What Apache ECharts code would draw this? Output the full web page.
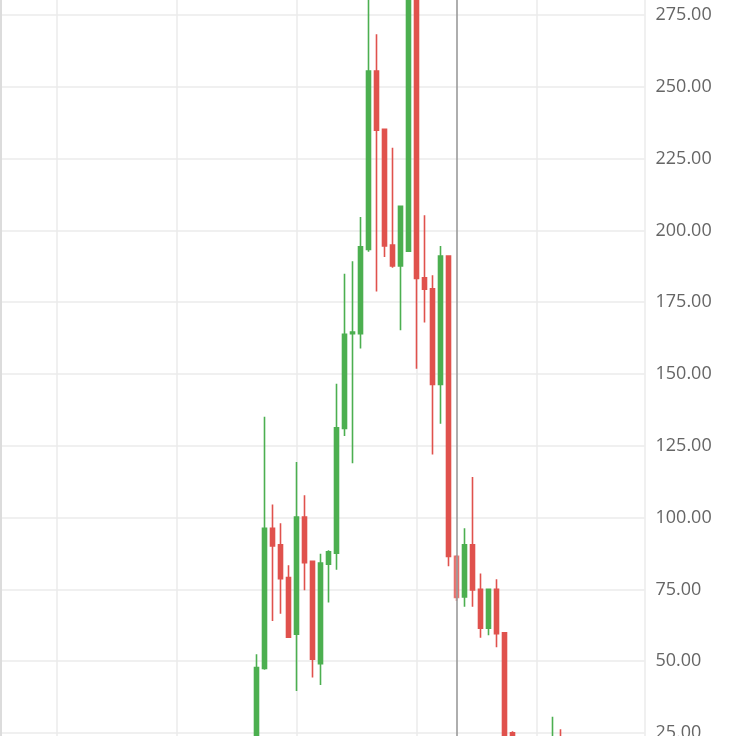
<!DOCTYPE html>
<html>
<head>
<meta charset="utf-8">
<script src="https://cdn.jsdelivr.net/npm/echarts@6/dist/echarts.min.js"></script>
<style>
html,body{margin:0;padding:0;background:#fff;}
#c{width:736px;height:736px;}
</style>
</head>
<body>
<div id="c"></div>
<script>
// ---- data ----
const leadingEmpty = 40;   // empty category slots before the first candle
const totalSlots = 91;     // category slots on the x axis
const opens  = [20.0, 47.5, 96.3, 90.5, 79.1, 59.4, 100.2, 84.8, 49.1, 83.8, 87.6, 131.0, 164.0, 164.0, 193.4, 255.5, 235.2, 194.9, 187.6, 192.8, 295.0, 183.5, 179.7, 146.4, 191.1, 86.5, 72.4, 90.5, 75.0, 61.5, 75.0, 59.9, 25.1, 21.5, 20.8, 21.2, 20.5, 21.0, 22.5];
const closes = [47.8, 96.3, 90.1, 78.7, 58.4, 100.2, 84.3, 50.7, 84.2, 88.1, 131.3, 163.8, 164.6, 194.3, 255.5, 234.9, 194.6, 187.6, 208.4, 295.0, 183.3, 179.5, 146.4, 191.1, 86.5, 72.2, 90.5, 74.8, 61.5, 75.0, 59.6, 22.0, 21.5, 20.8, 21.2, 20.5, 21.0, 22.5, 21.8];
const lows   = [19.0, 47.0, 64.0, 66.5, 58.2, 39.6, 74.7, 44.3, 41.7, 70.4, 81.8, 128.4, 118.9, 158.9, 192.6, 178.7, 190.7, 187.0, 165.2, 192.8, 151.8, 167.9, 122.0, 132.7, 83.1, 71.0, 69.0, 69.0, 58.2, 59.0, 54.9, 20.5, 20.0, 19.5, 19.8, 19.5, 19.8, 20.5, 20.8];
const highs  = [52.4, 135.1, 104.6, 98.0, 83.4, 119.4, 107.8, 85.0, 87.4, 88.6, 146.6, 184.9, 189.3, 204.7, 288.0, 268.3, 235.2, 228.8, 208.4, 298.0, 298.0, 205.3, 184.4, 194.6, 191.1, 87.0, 96.3, 114.1, 80.5, 75.0, 78.5, 59.9, 25.6, 22.5, 22.0, 22.2, 22.4, 30.7, 26.3];
const categories = [];
for (let i = 0; i < totalSlots; i++) categories.push(String(i));
const crosshairSlot = 65;  // highlighted candle / vertical cursor line
const leftEdgeSlot = 8;
const yTicks = { min: 0, max: 300, step: 25 };

// ---- build ----
const candleData = [];
for (let i = 0; i < totalSlots; i++) {
  const k = i - leadingEmpty;
  if (k >= 0 && k < opens.length) {
    const item = { value: [opens[k], closes[k], lows[k], highs[k]] };
    if (i === crosshairSlot) item.itemStyle = { opacity: 0.72 };
    candleData.push(item);
  } else {
    candleData.push('-');
  }
}

const upColor = '#4CAF50', downColor = '#E0524D';
const gridTop = -56.8, gridHeight = 861.6;

const chart = echarts.init(document.getElementById('c'));
chart.setOption({
  animation: false,
  backgroundColor: '#fff',
  grid: [
    { left: -63.5, width: 720, top: gridTop, height: gridHeight, outerBoundsMode: 'none', containLabel: false },
    { left: -63.5, width: 708, top: gridTop, height: gridHeight, outerBoundsMode: 'none', containLabel: false }
  ],
  xAxis: [
    { type: 'category', gridIndex: 0, data: categories, boundaryGap: false,
      axisLine: { show: false }, axisTick: { show: false }, axisLabel: { show: false }, splitLine: { show: false } },
    { type: 'value', gridIndex: 1, min: 0, max: 88.5, interval: 15,
      axisLine: { show: false }, axisTick: { show: false }, axisLabel: { show: false },
      splitLine: { show: true, lineStyle: { color: '#ebebeb', width: 1.5 } } }
  ],
  yAxis: [
    { type: 'value', gridIndex: 0, min: yTicks.min, max: yTicks.max, interval: yTicks.step, show: false },
    { type: 'value', gridIndex: 1, position: 'right', min: yTicks.min, max: yTicks.max, interval: yTicks.step,
      axisLine: { show: true, lineStyle: { color: '#666666', width: 1.6 } },
      axisTick: { show: true, inside: false, length: 6, lineStyle: { color: '#666666', width: 1.6 } },
      axisLabel: { margin: 11, color: '#666666', fontSize: 18, fontFamily: 'Open Sans',
        formatter: v => v.toFixed(2) },
      splitLine: { show: true, lineStyle: { color: '#ebebeb', width: 1.5 } } }
  ],
  series: [{
    type: 'candlestick',
    xAxisIndex: 0, yAxisIndex: 0,
    data: candleData,
    barWidth: 4.8,
    clip: false,
    itemStyle: { color: upColor, color0: downColor, borderColor: upColor, borderColor0: downColor, borderWidth: 1.6 },
    markLine: {
      silent: true, symbol: 'none', animation: false,
      label: { show: false },
      data: [
        { xAxis: crosshairSlot, lineStyle: { color: '#9a9a9a', width: 1.6, type: 'solid' } },
        { xAxis: leftEdgeSlot, lineStyle: { color: '#dcdcdc', width: 2, type: 'solid' } }
      ]
    }
  }]
});
</script>
</body>
</html>
